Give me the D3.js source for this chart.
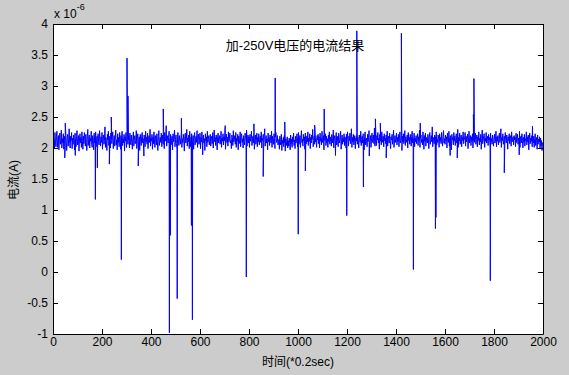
<!DOCTYPE html>
<html><head><meta charset="utf-8">
<script src="https://cdn.jsdelivr.net/npm/d3@7/dist/d3.min.js"></script>
<style>
html,body{margin:0;padding:0;background:#cccccc;}
svg{display:block;}
text{font-family:"Liberation Sans",Arial,"Noto Sans CJK SC",sans-serif;fill:#000;}
</style></head>
<body>
<svg id="chart" width="569" height="375"></svg>
<script>
// ---- data (units of 1e-6 A; x in samples of 0.2 s) ----
const title = "加-250V电压的电流结果";
const xLabel = "时间(*0.2sec)";
const yLabel = "电流(A)";
const xTicks = [0,200,400,600,800,1000,1200,1400,1600,1800,2000];
const yTicks = [-1,-0.5,0,0.5,1,1.5,2,2.5,3,3.5,4];
const baseStep = 2;
const baseline = [
2.21,2.05,2.14,1.99,2.25,2.10,2.02,2.18,2.27,2.01,2.12,2.20,1.97,2.16,2.24,2.06,2.11,2.29,2.00,2.15,
2.08,2.23,1.98,2.19,2.13,2.04,2.26,2.09,1.96,2.17,2.22,2.03,2.14,2.31,2.07,2.00,2.19,2.12,2.25,1.99,
2.16,2.06,2.21,2.11,1.97,2.24,2.14,2.02,2.18,2.28,2.05,2.10,2.20,1.95,2.13,2.23,2.08,2.17,2.01,2.26,
2.12,1.98,2.19,2.07,2.25,2.15,2.03,2.22,2.09,1.96,2.18,2.30,2.04,2.14,2.21,2.00,2.16,2.11,2.27,2.06,
2.01,2.20,2.13,1.97,2.24,2.08,2.17,2.26,2.02,2.12,2.19,1.99,2.23,2.10,2.05,2.28,2.14,2.03,2.18,2.09,
2.25,1.98,2.15,2.21,2.06,2.12,2.34,2.01,2.17,2.08,1.96,2.22,2.13,2.27,2.04,2.19,2.10,2.00,2.24,2.15,
2.07,2.18,2.26,1.99,2.11,2.20,2.03,2.16,2.29,2.05,2.13,1.97,2.23,2.09,2.17,2.02,2.25,2.14,1.98,2.20,
2.12,2.27,2.04,2.15,2.08,2.22,1.95,2.18,2.11,2.25,2.01,2.16,2.32,2.06,2.13,2.19,2.00,2.24,2.10,2.05,
2.21,2.09,1.98,2.17,2.26,2.03,2.14,2.20,2.07,2.12,2.28,1.99,2.16,2.23,2.05,2.11,2.18,1.96,2.22,2.13,
2.04,2.19,2.25,2.08,2.15,1.97,2.21,2.12,2.02,2.27,2.10,2.17,2.06,2.24,1.99,2.14,2.20,2.09,2.30,2.03,
2.16,2.11,2.22,1.98,2.18,2.07,2.26,2.13,2.01,2.20,2.15,2.05,2.23,2.10,1.96,2.19,2.28,2.04,2.12,2.17,
2.09,2.24,2.02,2.14,2.21,2.06,2.18,1.99,2.25,2.11,2.16,2.36,2.03,2.13,2.20,2.08,2.17,2.27,2.00,2.15,
2.22,2.05,2.12,2.19,1.97,2.23,2.10,2.16,2.29,2.02,2.14,2.21,2.07,1.98,2.18,2.25,2.11,2.04,2.20,2.13,
2.06,2.17,2.26,2.01,2.15,2.09,2.22,2.12,1.95,2.19,2.24,2.08,2.13,2.30,2.03,2.16,2.10,2.21,1.99,2.27,
2.14,2.02,2.18,2.23,2.07,2.11,2.20,1.98,2.16,2.25,2.05,2.13,2.19,2.09,2.28,2.01,2.15,2.22,2.06,2.12,
2.24,1.99,2.17,2.10,2.26,2.04,2.13,2.21,2.08,2.15,1.96,2.23,2.12,2.18,2.02,2.27,2.09,2.14,2.20,2.05,
2.11,2.22,2.03,2.16,2.19,2.07,2.25,2.00,2.14,2.29,2.10,2.17,2.04,2.21,2.13,1.97,2.18,2.24,2.08,2.15,
2.20,2.06,2.13,2.27,2.01,2.16,2.11,2.23,2.05,2.18,2.12,2.33,1.98,2.14,2.22,2.09,2.17,2.03,2.26,2.10,
2.15,2.24,2.08,2.12,1.99,2.21,2.17,2.04,2.28,2.10,2.14,2.20,2.06,2.25,2.01,2.16,2.11,2.22,1.97,2.19,
2.07,2.13,2.26,2.02,2.18,2.23,2.09,2.15,2.00,2.20,2.12,2.05,2.24,2.17,2.10,2.29,2.03,2.14,2.21,2.08,
2.18,2.01,2.22,2.11,2.16,2.27,2.04,2.13,2.19,2.08,2.25,1.98,2.15,2.21,2.06,2.12,2.24,2.02,2.17,2.10,
2.23,2.05,2.14,2.19,2.09,2.26,2.00,2.16,2.12,2.22,2.07,2.18,2.31,2.03,2.13,2.20,2.08,2.15,1.97,2.24,
2.10,2.17,2.04,2.21,2.14,2.08,2.27,2.01,2.19,2.12,2.06,2.23,2.15,1.99,2.18,2.25,2.09,2.13,2.20,2.05,
2.08,2.14,1.98,2.19,2.05,2.11,2.22,1.96,2.13,2.07,2.17,2.02,2.20,2.09,1.95,2.15,2.10,2.04,2.18,2.00,
2.12,2.03,2.16,2.09,1.97,2.21,2.06,2.14,2.01,2.18,2.10,2.24,2.04,2.13,1.99,2.19,2.08,2.15,2.23,2.02,
2.17,2.25,2.06,2.12,2.20,2.01,2.15,2.28,2.09,2.14,2.03,2.22,2.11,2.18,1.98,2.24,2.13,2.07,2.19,2.10,
2.26,2.04,2.16,2.11,2.23,1.99,2.17,2.08,2.21,2.14,2.30,2.02,2.12,2.19,2.06,2.25,2.10,2.15,2.01,2.20,
2.13,2.22,2.07,2.18,2.00,2.24,2.11,2.16,2.05,2.27,2.09,2.14,2.20,1.97,2.17,2.12,2.23,2.04,2.19,2.08,
2.15,2.01,2.21,2.10,2.26,2.06,2.13,2.18,2.03,2.22,2.14,2.08,2.29,2.00,2.16,2.20,2.07,2.12,2.25,2.05,
2.19,2.11,2.02,2.24,2.14,2.08,2.17,2.27,1.98,2.13,2.21,2.06,2.16,2.10,2.23,2.04,2.18,2.12,2.00,2.22,
2.09,2.26,2.14,2.03,2.19,2.12,2.24,2.07,2.15,2.31,2.01,2.17,2.10,2.22,2.05,2.13,2.20,1.99,2.16,2.11,
2.25,2.06,2.18,2.12,2.00,2.21,2.15,2.09,2.27,2.04,2.14,2.19,2.08,2.23,2.13,1.97,2.18,2.26,2.05,2.12,
2.16,2.02,2.22,2.10,2.17,2.28,2.06,2.13,2.20,2.01,2.15,2.24,2.09,2.14,2.21,2.07,2.32,2.03,2.11,2.18,
2.04,2.20,2.13,2.25,2.08,2.16,1.98,2.22,2.11,2.17,2.05,2.26,2.14,2.09,2.19,2.02,2.23,2.12,2.16,2.07,
2.21,2.10,2.27,2.03,2.15,2.19,2.08,2.24,2.12,1.99,2.18,2.13,2.22,2.06,2.16,2.29,2.01,2.14,2.20,2.09,
2.13,2.24,2.05,2.17,2.11,2.22,2.02,2.16,2.26,2.08,2.14,2.20,1.96,2.19,2.10,2.23,2.07,2.15,2.28,2.04,
2.18,2.09,2.14,2.21,2.00,2.25,2.12,2.17,2.06,2.22,2.13,2.03,2.19,2.27,2.08,2.15,2.11,2.24,2.02,2.16,
2.10,2.20,2.07,2.15,2.23,2.04,2.18,2.12,2.29,2.01,2.16,2.21,2.09,2.14,2.05,2.26,2.13,1.98,2.20,2.11,
2.24,2.03,2.17,2.12,2.08,2.22,2.15,1.99,2.19,2.25,2.06,2.13,2.20,2.10,2.34,2.02,2.17,2.14,2.07,2.21,
2.12,2.18,2.26,2.05,2.14,2.09,2.21,2.16,2.01,2.23,2.11,2.17,2.07,2.25,2.13,2.03,2.19,2.28,2.08,2.15,
2.06,2.21,2.12,2.18,2.00,2.24,2.14,2.09,2.27,2.03,2.16,2.20,2.10,1.97,2.22,2.13,2.17,2.05,2.25,2.11,
2.19,2.04,2.15,2.23,2.08,2.13,2.30,2.01,2.17,2.11,2.24,2.06,2.14,2.21,2.02,2.18,2.12,2.26,2.07,2.16,
2.14,2.25,2.03,2.19,2.10,2.16,2.22,1.99,2.13,2.27,2.08,2.15,2.20,2.04,2.18,2.11,2.23,2.00,2.17,2.12,
2.09,2.17,2.24,2.06,2.14,2.21,2.02,2.18,2.12,2.26,2.05,2.16,2.10,2.22,1.98,2.15,2.29,2.07,2.13,2.20,
2.23,2.01,2.16,2.11,2.25,2.08,2.14,2.19,2.04,2.22,2.13,2.17,2.00,2.24,2.10,2.15,2.06,2.21,2.12,2.03,
2.16,2.22,2.08,2.13,2.27,2.02,2.18,2.11,2.20,2.05,2.15,2.24,2.09,2.14,2.31,2.01,2.17,2.12,2.23,2.06,
2.11,2.19,2.04,2.25,2.14,2.08,2.21,2.16,1.98,2.18,2.12,2.23,2.07,2.15,2.20,2.03,2.26,2.10,2.14,2.18,
2.05,2.20,2.13,2.17,2.02,2.24,2.09,2.15,2.22,2.06,2.16,2.11,2.27,2.01,2.14,2.19,2.08,2.23,2.12,2.00,
2.17,2.09,2.22,2.03,2.15,2.12,2.26,2.05,2.18,2.10,2.21,1.97,2.14,2.24,2.07,2.16,2.11,2.20,2.02,2.13,
2.08,2.19,2.01,2.15,2.23,2.04,2.12,2.17,1.98,2.21,2.06,2.14,2.10,2.18,1.99,2.16,2.03,2.12,1.96,2.09
];
const spikeX = [48,50,91,173,181,230,238,279,302,306,348,371,450,475,479,507,524,565,569,611,703,789,820,858,907,946,1001,1030,1068,1107,1153,1199,1240,1267,1291,1316,1336,1360,1422,1471,1499,1561,1563,1621,1650,1716,1718,1785,1842,1903,1957];
const spikeY = [1.84,2.40,1.88,1.17,1.68,1.74,2.50,0.20,3.45,2.84,1.71,1.87,2.63,-0.98,0.59,-0.43,2.48,0.75,-0.77,1.89,2.36,-0.08,2.39,1.54,3.13,2.42,0.61,1.63,2.37,2.63,1.88,0.91,3.89,1.37,1.87,2.47,2.40,1.84,3.85,0.04,2.40,0.70,0.88,1.88,1.84,2.54,3.12,-0.14,1.60,1.89,2.35];

// ---- layout ----
const L = 53, R = 543, T = 24, B = 334;
const svg = d3.select("#chart");
svg.append("rect").attr("width",569).attr("height",375).attr("fill","#cccccc");
svg.append("rect").attr("x",L).attr("y",T).attr("width",R-L).attr("height",B-T).attr("fill","#ffffff");

const x = d3.scaleLinear().domain([0,2000]).range([L,R]);
const y = d3.scaleLinear().domain([-1,4]).range([B,T]);

const pts = baseline.map((v,i)=>[i*baseStep, v])
  .concat(spikeX.map((sx,i)=>[sx, spikeY[i]]))
  .sort((a,b)=>a[0]-b[0]);

svg.append("clipPath").attr("id","clp").append("rect")
  .attr("x",L).attr("y",T).attr("width",R-L).attr("height",B-T);

svg.append("path").datum(pts)
  .attr("clip-path","url(#clp)")
  .attr("fill","none").attr("stroke","#0000ff").attr("stroke-width",1)
  .attr("d", d3.line().x(d=>x(d[0])).y(d=>y(d[1])));

const fmt = v => String(v);
function styleAxis(g){
  g.selectAll("path.domain").attr("stroke","#000");
  g.selectAll(".tick line").attr("stroke","#000");
  g.selectAll("text").attr("font-size","12px").attr("font-family",'"Liberation Sans",Arial,sans-serif').attr("fill","#000");
}
svg.append("g").attr("transform",`translate(0,${B})`)
  .call(d3.axisBottom(x).tickValues(xTicks).tickFormat(fmt).tickSizeInner(-5).tickSizeOuter(0).tickPadding(3))
  .call(styleAxis);
svg.append("g").attr("transform",`translate(${L},0)`)
  .call(d3.axisLeft(y).tickValues(yTicks).tickFormat(fmt).tickSizeInner(-5).tickSizeOuter(0).tickPadding(5))
  .call(styleAxis);
svg.append("g").attr("transform",`translate(0,${T})`)
  .call(d3.axisTop(x).tickValues(xTicks).tickFormat("").tickSizeInner(-5).tickSizeOuter(0))
  .call(styleAxis);
svg.append("g").attr("transform",`translate(${R},0)`)
  .call(d3.axisRight(y).tickValues(yTicks).tickFormat("").tickSizeInner(-5).tickSizeOuter(0))
  .call(styleAxis);

// exponent label
const ex = svg.append("text").attr("x",L+1).attr("y",18).attr("font-size","12px");
ex.append("tspan").text("x 10");
ex.append("tspan").attr("dy",-8).attr("font-size","9px").text("-6");

// title
svg.append("text").attr("x",(L+R)/2-3).attr("y",50).attr("text-anchor","middle")
  .attr("font-size","13px").attr("font-family",'"Noto Sans CJK SC","Liberation Sans",sans-serif').text(title);
// x label
svg.append("text").attr("x",(L+R)/2).attr("y",366).attr("text-anchor","middle")
  .attr("font-size","12px").attr("font-family",'"Noto Sans CJK SC","Liberation Sans",sans-serif').text(xLabel);
// y label
svg.append("text").attr("transform","translate(18,180) rotate(-90)").attr("text-anchor","middle")
  .attr("font-size","12px").attr("font-family",'"Noto Sans CJK SC","Liberation Sans",sans-serif').text(yLabel);
</script>
</body></html>
